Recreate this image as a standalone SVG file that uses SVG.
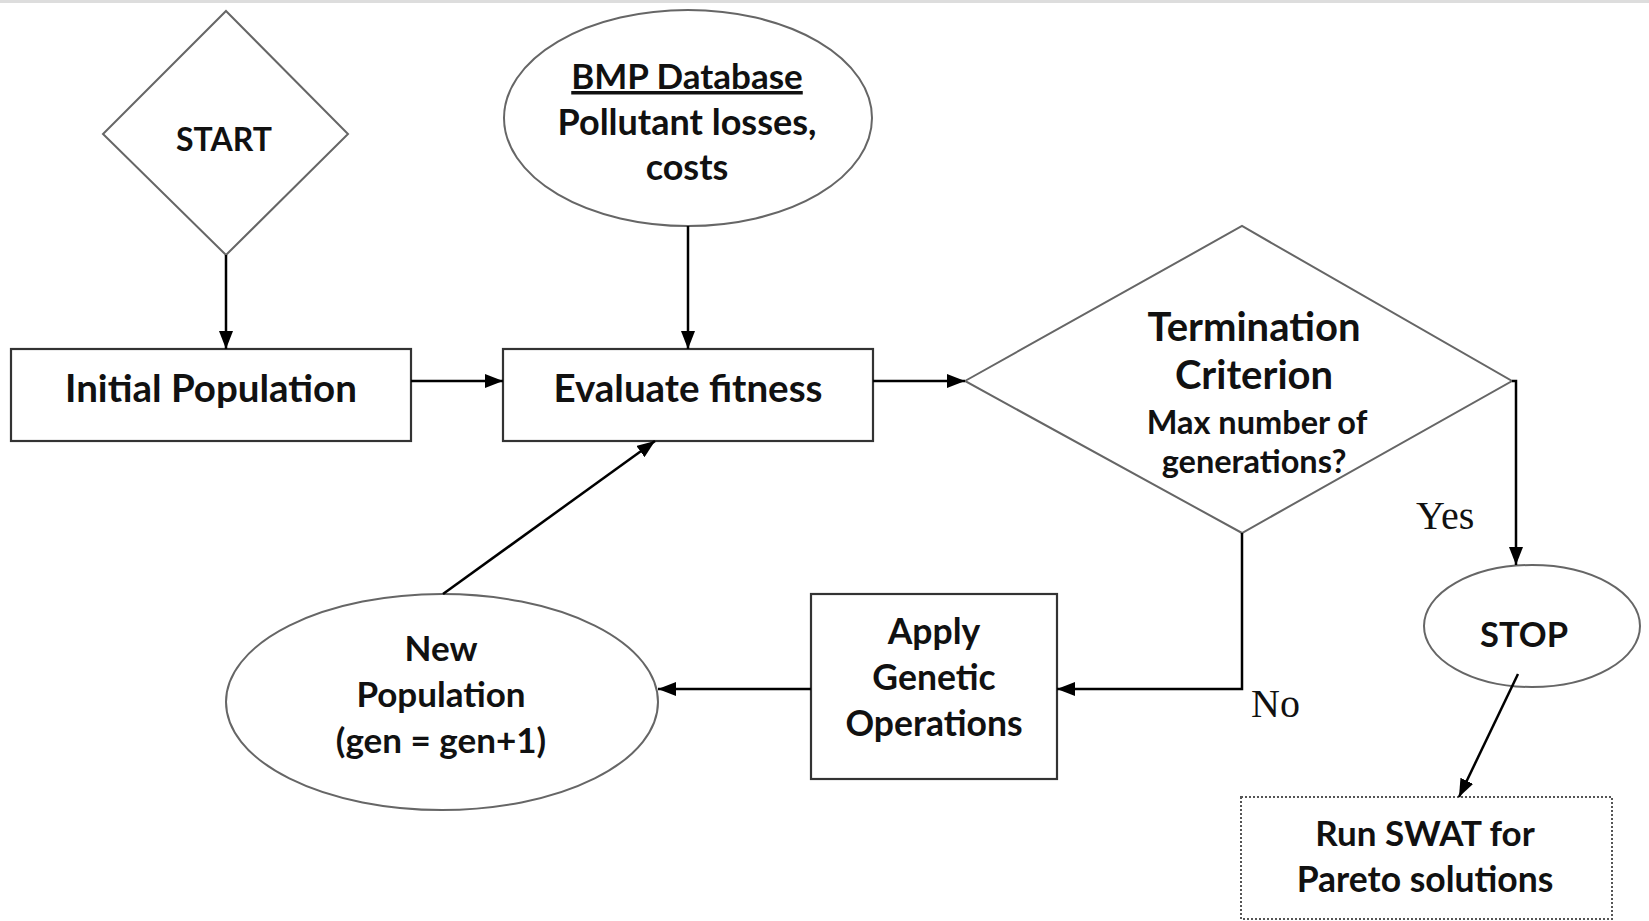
<svg xmlns="http://www.w3.org/2000/svg" width="1649" height="921" viewBox="0 0 1649 921">
<defs>
<marker id="ah" viewBox="0 0 18 14" refX="18" refY="7" markerWidth="18" markerHeight="14" markerUnits="userSpaceOnUse" orient="auto">
<path d="M0,0 L18,7 L0,14 z" fill="#000"/>
</marker>
<style>
.box{fill:#fff;stroke:#333;stroke-width:2.2}
.shape{fill:#fff;stroke:#666;stroke-width:2}
.dot{fill:#fff;stroke:#555;stroke-width:2;stroke-dasharray:2 2}
.t{font-family:Lato,"Liberation Sans",sans-serif;font-weight:bold;fill:#111;text-anchor:middle}
.s{font-family:"Liberation Serif",serif;fill:#111;font-size:40px}
.ca{fill:none;stroke:#000;stroke-width:2.5;marker-end:url(#ah)}
</style>
</defs>
<rect x="0" y="0" width="1649" height="921" fill="#fff"/>
<line x1="0" y1="1.5" x2="1649" y2="1.5" stroke="#ddd" stroke-width="3"/>
<g id="start">
<polygon class="shape" points="226,11 348,134 226,255 103,134"/>
<text class="t" x="224" y="151" font-size="32">START</text>
</g>
<g id="bmp">
<ellipse class="shape" cx="688" cy="118" rx="184" ry="108"/>
<text class="t" x="687" y="89" font-size="35" text-decoration="underline">BMP Database</text>
<text class="t" x="687" y="135" font-size="36">Pollutant losses,</text>
<text class="t" x="687" y="180" font-size="36">costs</text>
</g>
<g id="initial">
<rect class="box" x="11" y="349" width="400" height="92"/>
<text class="t" x="211" y="402" font-size="38.5">Initial Population</text>
</g>
<g id="evaluate">
<rect class="box" x="503" y="349" width="370" height="92"/>
<text class="t" x="688" y="402" font-size="38.5">Evaluate fitness</text>
</g>
<g id="termination">
<polygon class="shape" points="965,381 1242,226 1512,381 1242,533"/>
<text class="t" x="1254" y="341" font-size="40">Termination</text>
<text class="t" x="1254" y="389" font-size="40">Criterion</text>
<text class="t" x="1257" y="434" font-size="32.5">Max number of</text>
<text class="t" x="1254" y="473" font-size="32.5">generations?</text>
</g>
<g id="stop">
<ellipse class="shape" cx="1532" cy="626" rx="108" ry="61"/>
<text class="t" x="1524" y="647" font-size="34.5">STOP</text>
</g>
<g id="swat">
<rect class="dot" x="1241" y="797" width="371" height="122"/>
<text class="t" x="1425" y="846" font-size="35">Run SWAT for</text>
<text class="t" x="1425" y="892" font-size="35.5">Pareto solutions</text>
</g>
<g id="apply">
<rect class="box" x="811" y="594" width="246" height="185"/>
<text class="t" x="934" y="644" font-size="35.5">Apply</text>
<text class="t" x="934" y="690" font-size="35.5">Genetic</text>
<text class="t" x="934" y="736" font-size="35.5">Operations</text>
</g>
<g id="newpop">
<ellipse class="shape" cx="442" cy="702" rx="216" ry="108"/>
<text class="t" x="441" y="661" font-size="35">New</text>
<text class="t" x="441" y="707" font-size="35">Population</text>
<text class="t" x="441" y="753" font-size="35">(gen = gen+1)</text>
</g>
<g id="connectors">
<line class="ca" x1="226" y1="255" x2="226" y2="349"/>
<line class="ca" x1="688" y1="226" x2="688" y2="349"/>
<line class="ca" x1="411" y1="381" x2="503" y2="381"/>
<line class="ca" x1="873" y1="381" x2="965" y2="381"/>
<polyline class="ca" points="1512,381 1516,381 1516,565"/>
<line class="ca" x1="1518" y1="674" x2="1459" y2="797"/>
<polyline class="ca" points="1242,533 1242,689 1057,689"/>
<line class="ca" x1="811" y1="689" x2="658" y2="689"/>
<line class="ca" x1="443" y1="594" x2="655" y2="441"/>
<text class="s" x="1416" y="529">Yes</text>
<text class="s" x="1251" y="717">No</text>
</g>
</svg>
